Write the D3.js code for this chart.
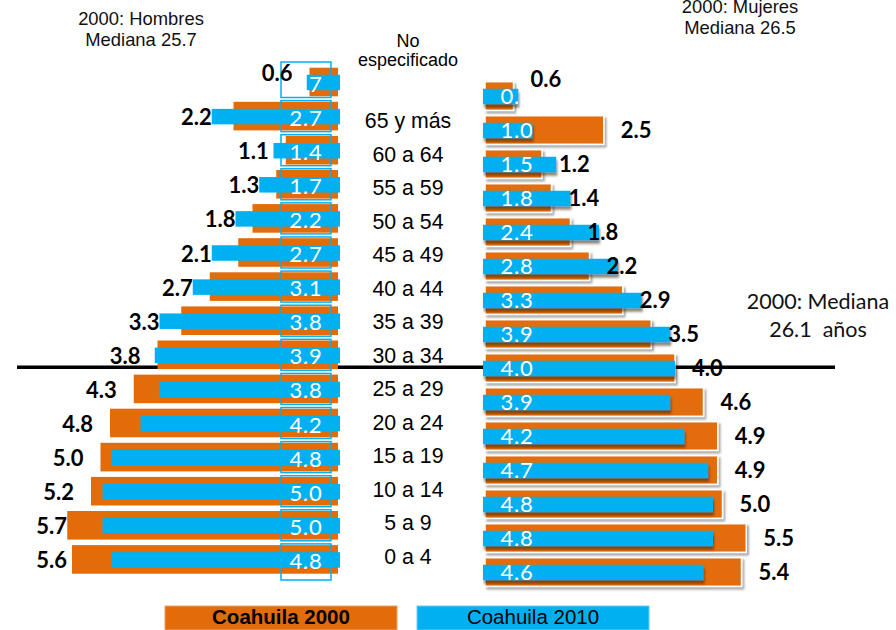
<!DOCTYPE html>
<html><head><meta charset="utf-8">
<script src="https://cdn.jsdelivr.net/npm/d3@7"></script>
<style>body{margin:0;background:#fff;} svg{display:block;}</style>
</head><body>
<svg id="c" width="896" height="630"></svg>
<script>
const categories = ["No especificado","65 y más","60 a 64","55 a 59","50 a 54","45 a 49","40 a 44","35 a 39","30 a 34","25 a 29","20 a 24","15 a 19","10 a 14","5 a 9","0 a 4"];
const hombres2000 = [0.6,2.2,1.1,1.3,1.8,2.1,2.7,3.3,3.8,4.3,4.8,5.0,5.2,5.7,5.6];
const hombres2010 = [0.7,2.7,1.4,1.7,2.2,2.7,3.1,3.8,3.9,3.8,4.2,4.8,5.0,5.0,4.8];
const mujeres2000 = [0.6,2.5,1.2,1.4,1.8,2.2,2.9,3.5,4.0,4.6,4.9,4.9,5.0,5.5,5.4];
const mujeres2010 = [0.7,1.0,1.5,1.8,2.4,2.8,3.3,3.9,4.0,3.9,4.2,4.7,4.8,4.8,4.6];
const seriesNames = ["Coahuila 2000","Coahuila 2010"];
const tituloHombres = ["2000: Hombres","Mediana 25.7"];
const tituloMujeres = ["2000: Mujeres","Mediana 26.5"];
const tituloTotal = ["2000: Mediana","26.1  años"];
const medianGroup = "30 a 34";

const ORANGE = "#E36C0A", BLUE = "#00B0F0";
const svg = d3.select("#c");
const defs = svg.append("defs");
defs.append("filter").attr("id","shO").attr("x","-5%").attr("y","-30%").attr("width","115%").attr("height","170%")
  .append("feDropShadow").attr("dx",2).attr("dy",2.5).attr("stdDeviation",1.2).attr("flood-color","#000").attr("flood-opacity",0.35);
defs.append("filter").attr("id","shB").attr("x","-5%").attr("y","-30%").attr("width","115%").attr("height","190%")
  .append("feDropShadow").attr("dx",1).attr("dy",3.5).attr("stdDeviation",1.2).attr("flood-color","#3a1a00").attr("flood-opacity",0.55);

const yL = d3.scalePoint().domain(categories).range([82, 82 + 14*34.1]);
const yR = d3.scalePoint().domain(categories).range([96, 96 + 14*34]);
const yCat = d3.scalePoint().domain(categories.slice(1)).range([128, 128 + 13*33.5]);
const len = d3.scaleLinear().domain([0, 6]).range([0, 285]);
const OH = 28.6, BH = 15.5;
const L0 = 338, L0b = 340, R0 = 485, R0b = 483;

// Median line (behind bars)
const ym = yL(medianGroup) + OH/2 - 1.8;
svg.append("line").attr("x1",17).attr("x2",835).attr("y1",ym).attr("y2",ym)
  .attr("stroke","#000").attr("stroke-width",3.5);

// ---- Left (Hombres)
const gL = svg.append("g");
gL.selectAll("rect.o").data(categories).join("rect")
  .attr("x",(d,i)=>L0 - len(hombres2000[i])).attr("width",(d,i)=>len(hombres2000[i]))
  .attr("y",d=>yL(d)-OH/2).attr("height",OH).attr("fill",ORANGE);
gL.selectAll("rect.b").data(categories).join("rect")
  .attr("x",(d,i)=>L0b - len(hombres2010[i])).attr("width",(d,i)=>len(hombres2010[i]))
  .attr("y",d=>yL(d)-BH/2+0.5).attr("height",BH).attr("fill",BLUE);

// box column cells
const cellX = 281, cellW = 50;
categories.forEach((d,i)=>{
  const top = i===0 ? 62 : yL(d)-OH/2-1.2;
  const bot = i===categories.length-1 ? 580 : yL(d)+OH/2+1.2;
  gL.append("rect").attr("x",cellX).attr("y",top).attr("width",cellW).attr("height",bot-top)
    .attr("fill","none").attr("stroke",BLUE).attr("stroke-width",1.5);
});

// clip paths + white labels left
categories.forEach((d,i)=>{
  const id = "cl"+i;
  defs.append("clipPath").attr("id",id).append("rect")
    .attr("x",L0b - len(hombres2010[i])).attr("width",len(hombres2010[i]))
    .attr("y",yL(d)-OH/2).attr("height",OH);
  gL.append("text").attr("clip-path",`url(#${id})`)
    .attr("x",306).attr("y",yL(d)+9.5).attr("text-anchor","middle")
    .attr("font-family","Lato, sans-serif").attr("font-size",22).attr("letter-spacing",0.8)
    .attr("fill","#fff").text(hombres2010[i].toFixed(1));
});
// black labels left
categories.forEach((d,i)=>{
  const bl = L0b - len(hombres2010[i]);
  const ol = L0 - len(hombres2000[i]);
  const xe = Math.max(Math.min(bl, ol - 17), 67);
  gL.append("text").attr("x",xe).attr("y",yL(d)+9 - (i===0?10:0)).attr("text-anchor","end")
    .attr("font-family","Lato, sans-serif").attr("font-weight","bold").attr("font-size",22)
    .attr("fill","#000").text(hombres2000[i].toFixed(1));
});

// ---- Right (Mujeres)
const gR = svg.append("g");
gR.selectAll("rect.o").data(categories).join("rect")
  .attr("x",R0).attr("width",(d,i)=>len(mujeres2000[i]))
  .attr("y",d=>yR(d)-OH/2).attr("height",OH).attr("fill",ORANGE)
  .attr("stroke","#fff").attr("stroke-width",1.5).attr("filter","url(#shO)");
gR.selectAll("rect.b").data(categories).join("rect")
  .attr("x",R0b).attr("width",(d,i)=>len(mujeres2010[i]) + (R0-R0b))
  .attr("y",d=>yR(d)-BH/2+0.5).attr("height",BH).attr("fill",BLUE).attr("filter","url(#shB)");
categories.forEach((d,i)=>{
  const id = "cr"+i;
  defs.append("clipPath").attr("id",id).append("rect")
    .attr("x",R0b).attr("width",len(mujeres2010[i]) + (R0-R0b))
    .attr("y",yR(d)-OH/2).attr("height",OH);
  gR.append("text").attr("clip-path",`url(#${id})`)
    .attr("x",517).attr("y",yR(d)+8).attr("text-anchor","middle")
    .attr("font-family","Lato, sans-serif").attr("font-size",22).attr("letter-spacing",0.8)
    .attr("fill","#fff").text(mujeres2010[i].toFixed(1));
  gR.append("text").attr("x",R0 + len(mujeres2000[i]) + 17).attr("y",yR(d)+8 - (i===0?17:0))
    .attr("font-family","Lato, sans-serif").attr("font-weight","bold").attr("font-size",22)
    .attr("fill","#000").text(mujeres2000[i].toFixed(1));
});

// ---- Category labels
const gc = svg.append("g").attr("font-family","'Liberation Sans', Arial, sans-serif").attr("fill","#000").attr("text-anchor","middle");
gc.append("text").attr("x",408).attr("y",46.7).attr("font-size",18).text(categories[0].split(" ")[0]);
gc.append("text").attr("x",408).attr("y",66).attr("font-size",18).text(categories[0].split(" ")[1]);
gc.selectAll("text.cat").data(categories.slice(1)).join("text").attr("class","cat")
  .attr("x",408).attr("y",d=>yCat(d)).attr("font-size",21.3).text(d=>d);

// ---- Titles
const gt = svg.append("g").attr("font-family","'Liberation Sans', Arial, sans-serif").attr("font-size",18.4).attr("fill","#111").attr("text-anchor","middle");
gt.append("text").attr("x",141).attr("y",25).text(tituloHombres[0]);
gt.append("text").attr("x",141).attr("y",46).text(tituloHombres[1]);
gt.append("text").attr("x",740).attr("y",12.5).text(tituloMujeres[0]);
gt.append("text").attr("x",740).attr("y",33.5).text(tituloMujeres[1]);
const gm = svg.append("g").attr("font-family","Lato, sans-serif").attr("font-size",21.5).attr("fill","#111").attr("text-anchor","middle");
gm.append("text").attr("x",818).attr("y",309).text(tituloTotal[0]);
gm.append("text").attr("x",818).attr("y",337).attr("xml:space","preserve").style("white-space","pre").text(tituloTotal[1]);

// ---- Legend
const lg = svg.append("g").attr("font-family","'Liberation Sans', Arial, sans-serif").attr("font-size",20.5).attr("text-anchor","middle");
const legX = d3.scalePoint().domain(seriesNames).range([281, 533]);
const legC = [ORANGE, BLUE];
seriesNames.forEach((s,i)=>{
  lg.append("rect").attr("x",legX(s)-116).attr("y",606).attr("width",232).attr("height",24)
    .attr("fill",legC[i]).attr("stroke",i===0?"#f0a060":"#60d0f8").attr("stroke-width",1);
  lg.append("text").attr("x",legX(s)).attr("y",624).attr("font-weight",i===0?"bold":"normal")
    .attr("fill","#000").text(s);
});
</script>
</body></html>
